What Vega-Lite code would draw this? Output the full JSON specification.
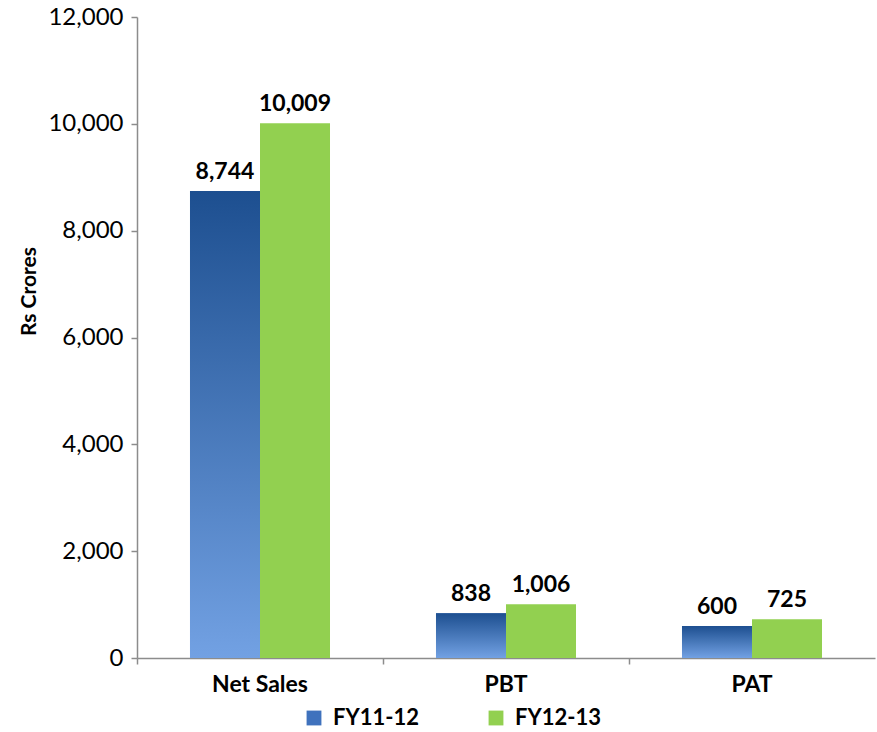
{
  "$schema": "https://vega.github.io/schema/vega-lite/v6.json",
  "autosize": "none",
  "width": 738,
  "height": 641,
  "padding": {"left": 137, "top": 17, "right": 2, "bottom": 74},
  "background": "white",
  "config": {
    "view": {"stroke": null},
    "font": "Lato",
    "axis": {"labelFont": "Lato", "titleFont": "Lato", "domainColor": "#8c8c8c", "tickColor": "#8c8c8c", "grid": false, "labelColor": "#000", "titleColor": "#000"}
  },
  "data": {
    "values": [
      {"category": "Net Sales", "year": "FY11-12", "value": 8744},
      {"category": "Net Sales", "year": "FY12-13", "value": 10009},
      {"category": "PBT", "year": "FY11-12", "value": 838},
      {"category": "PBT", "year": "FY12-13", "value": 1006},
      {"category": "PAT", "year": "FY11-12", "value": 600},
      {"category": "PAT", "year": "FY12-13", "value": 725}
    ]
  },
  "encoding": {
    "x": {
      "field": "category", "type": "nominal", "sort": ["Net Sales", "PBT", "PAT"],
      "scale": {"paddingInner": 0, "paddingOuter": 0},
      "axis": {"title": null, "labelAngle": 0, "labelFontSize": 23, "labelFontWeight": "bold", "labelPadding": 9, "bandPosition": 0, "tickSize": 6, "domainWidth": 1.5, "tickWidth": 1.5}
    },
    "xOffset": {"field": "year", "type": "nominal", "scale": {"paddingInner": 0, "paddingOuter": 0.757}},
    "y": {
      "field": "value", "type": "quantitative",
      "scale": {"domain": [0, 12000], "nice": false},
      "axis": {"title": "Rs Crores", "titleFontSize": 21, "titleFontWeight": "bold", "titlePadding": 8, "titleY": 274, "labelFontSize": 24, "labelPadding": 8, "labelExpr": "format(datum.value, ',')", "labelOverlap": false, "values": [0, 2000, 4000, 6000, 8000, 10000, 12000], "tickSize": 6, "domainWidth": 1.5, "tickWidth": 1.5}
    }
  },
  "layer": [
    {
      "mark": {"type": "bar"},
      "encoding": {
        "color": {
          "field": "year", "type": "nominal",
          "scale": {"domain": ["FY11-12", "FY12-13"], "range": ["#3f72bd", "#92d050"]},
          "legend": {"title": null, "orient": "none", "direction": "horizontal", "legendX": 166, "legendY": 690, "labelFontSize": 22, "labelFontWeight": "bold", "labelFont": "Lato", "symbolType": "square", "symbolSize": 220, "symbolStrokeWidth": 0, "columnPadding": 66, "labelOffset": 8}
        }
      }
    },
    {
      "transform": [{"filter": "datum.year === 'FY11-12'"}],
      "mark": {
        "type": "bar",
        "color": {"gradient": "linear", "x1": 0, "y1": 0, "x2": 0, "y2": 1, "stops": [{"offset": 0, "color": "#1d4f90"}, {"offset": 1, "color": "#72a1e3"}]}
      }
    },
    {
      "mark": {"type": "text", "baseline": "bottom", "dy": -7, "fontSize": 23, "fontWeight": "bold", "color": "#000"},
      "encoding": {"text": {"field": "value", "type": "quantitative", "format": ","}}
    }
  ]
}
